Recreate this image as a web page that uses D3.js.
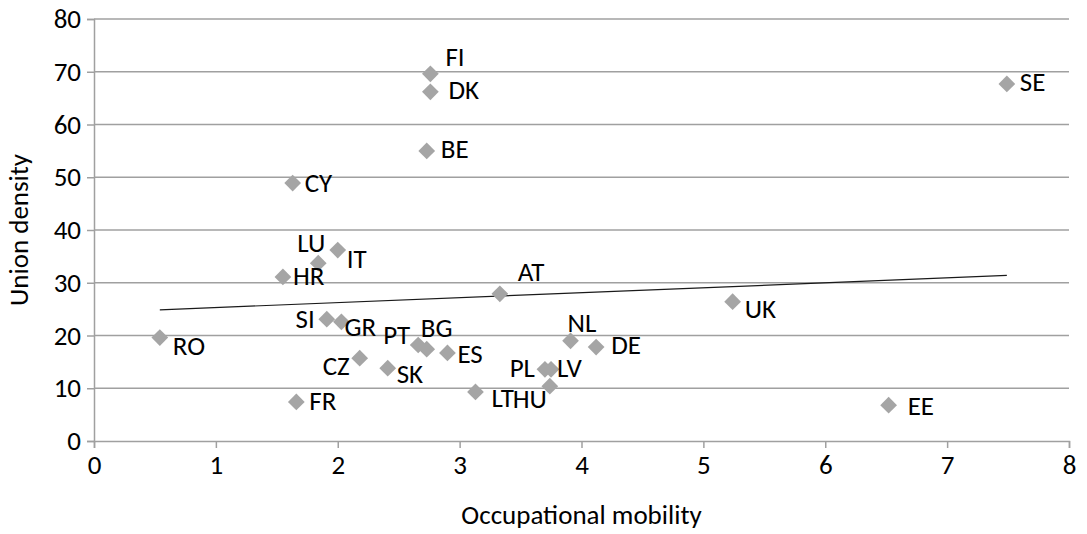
<!DOCTYPE html>
<html>
<head>
<meta charset="utf-8">
<script src="https://cdn.jsdelivr.net/npm/d3@7"></script>
<style>
  body { margin: 0; background: #fff; }
  text { font-family: Carlito, Calibri, Lato, "Liberation Sans", sans-serif; fill: #000; }
</style>
</head>
<body>
<div id="chart"></div>
<script>
var svgWidth = 1087;
var svgHeight = 534;

var margin = { top: 19, right: 18, bottom: 93, left: 94 };

var width = svgWidth - margin.left - margin.right;
var height = svgHeight - margin.top - margin.bottom;

// Data
var countries = ["FI", "DK", "SE", "BE", "CY", "LU", "IT", "HR", "AT", "SI", "GR", "PT", "BG", "ES",
                 "CZ", "SK", "FR", "LT", "HU", "PL", "LV", "NL", "DE", "UK", "EE", "RO"];
var mobility = [2.76, 2.76, 7.49, 2.73, 1.63, 1.84, 2.00, 1.55, 3.33, 1.91, 2.03, 2.66, 2.73, 2.90,
                2.18, 2.41, 1.66, 3.13, 3.74, 3.70, 3.75, 3.91, 4.12, 5.24, 6.52, 0.54];
var density = [69.6, 66.2, 67.7, 55.0, 48.9, 33.7, 36.2, 31.1, 27.9, 23.1, 22.6, 18.2, 17.4, 16.7,
               15.7, 13.8, 7.4, 9.3, 10.4, 13.6, 13.6, 19.0, 17.8, 26.4, 6.8, 19.6];
var xTicks = [0, 1, 2, 3, 4, 5, 6, 7, 8];
var yTicks = [0, 10, 20, 30, 40, 50, 60, 70, 80];

// label placement: [dx, dy, anchor]
var labelPos = {
  FI: [15, -14, "start"], DK: [18, 1, "start"], SE: [13, 1, "start"], BE: [14, 1, "start"],
  CY: [12, 2, "start"], LU: [7, -18, "end"], IT: [9, 12, "start"], HR: [10, 2, "start"],
  AT: [18, -19, "start"], SI: [-12, 2, "end"], GR: [3, 8, "start"], PT: [-8, -7, "end"],
  BG: [-6, -19, "start"], ES: [10, 4, "start"], CZ: [-10, 10, "end"], SK: [9, 8, "start"],
  FR: [13, 2, "start"], LT: [16, 9, "start"], HU: [-3, 15, "end"], PL: [-10, 1, "end"],
  LV: [6, 1, "start"], NL: [-3, -15, "start"], DE: [15, 0, "start"], UK: [12, 10, "start"],
  EE: [19, 3, "start"], RO: [13, 11, "start"]
};

var data = countries.map(function(c, i) {
  return { name: c, x: mobility[i], y: density[i] };
});

var svg = d3.select("#chart").append("svg").attr("width", svgWidth).attr("height", svgHeight);
var chartGroup = svg.append("g").attr("transform", `translate(${margin.left}, ${margin.top})`);

var xScale = d3.scaleLinear().domain([0, 8]).range([0, width]);
var yScale = d3.scaleLinear().domain([0, 80]).range([height, 0]);

// gridlines
chartGroup.append("g").selectAll("line")
  .data(yTicks.slice(1))
  .join("line")
  .attr("x1", 0).attr("x2", width)
  .attr("y1", d => yScale(d)).attr("y2", d => yScale(d))
  .attr("stroke", "#a0a0a0").attr("stroke-width", 1.5);

// axes
var xAxis = d3.axisBottom(xScale).tickValues(xTicks).tickSize(7).tickPadding(7);
var yAxis = d3.axisLeft(yScale).tickValues(yTicks).tickSize(7).tickPadding(6);

var gx = chartGroup.append("g").attr("transform", `translate(0, ${height})`).call(xAxis);
var gy = chartGroup.append("g").call(yAxis);

[gx, gy].forEach(function(g) {
  g.select(".domain").attr("stroke", "#a0a0a0").attr("stroke-width", 1.5);
  g.selectAll(".tick line").attr("stroke", "#a0a0a0").attr("stroke-width", 1.5);
  g.selectAll(".tick text").style("font-size", "27px").attr("fill", "#000");
});

// linear trendline (least squares)
var mx = d3.mean(mobility), my = d3.mean(density);
var sxy = d3.sum(data, d => (d.x - mx) * (d.y - my));
var sxx = d3.sum(data, d => (d.x - mx) * (d.x - mx));
var slope = sxy / sxx, intercept = my - slope * mx;
var x0 = d3.min(mobility), x1 = d3.max(mobility);

chartGroup.append("line")
  .attr("x1", xScale(x0)).attr("y1", yScale(intercept + slope * x0))
  .attr("x2", xScale(x1)).attr("y2", yScale(intercept + slope * x1))
  .attr("stroke", "#1a1a1a").attr("stroke-width", 1.2);

// points
chartGroup.append("g").selectAll("path")
  .data(data)
  .join("path")
  .attr("transform", d => `translate(${xScale(d.x)}, ${yScale(d.y)}) rotate(45)`)
  .attr("d", d3.symbol().type(d3.symbolSquare).size(140))
  .attr("fill", "#a5a5a5");

// labels
chartGroup.append("g").selectAll("text")
  .data(data)
  .join("text")
  .attr("x", d => xScale(d.x) + labelPos[d.name][0])
  .attr("y", d => yScale(d.y) + labelPos[d.name][1])
  .attr("text-anchor", d => labelPos[d.name][2])
  .attr("dominant-baseline", "middle")
  .style("font-size", "27px")
  .text(d => d.name);

// axis titles
svg.append("text")
  .attr("x", margin.left + width / 2).attr("y", 518)
  .attr("text-anchor", "middle")
  .attr("dominant-baseline", "middle")
  .style("font-size", "27px")
  .text("Occupational mobility");

svg.append("text")
  .attr("transform", `translate(22, ${margin.top + height / 2}) rotate(-90)`)
  .attr("text-anchor", "middle")
  .attr("dominant-baseline", "middle")
  .style("font-size", "27px")
  .text("Union density");
</script>
</body>
</html>
